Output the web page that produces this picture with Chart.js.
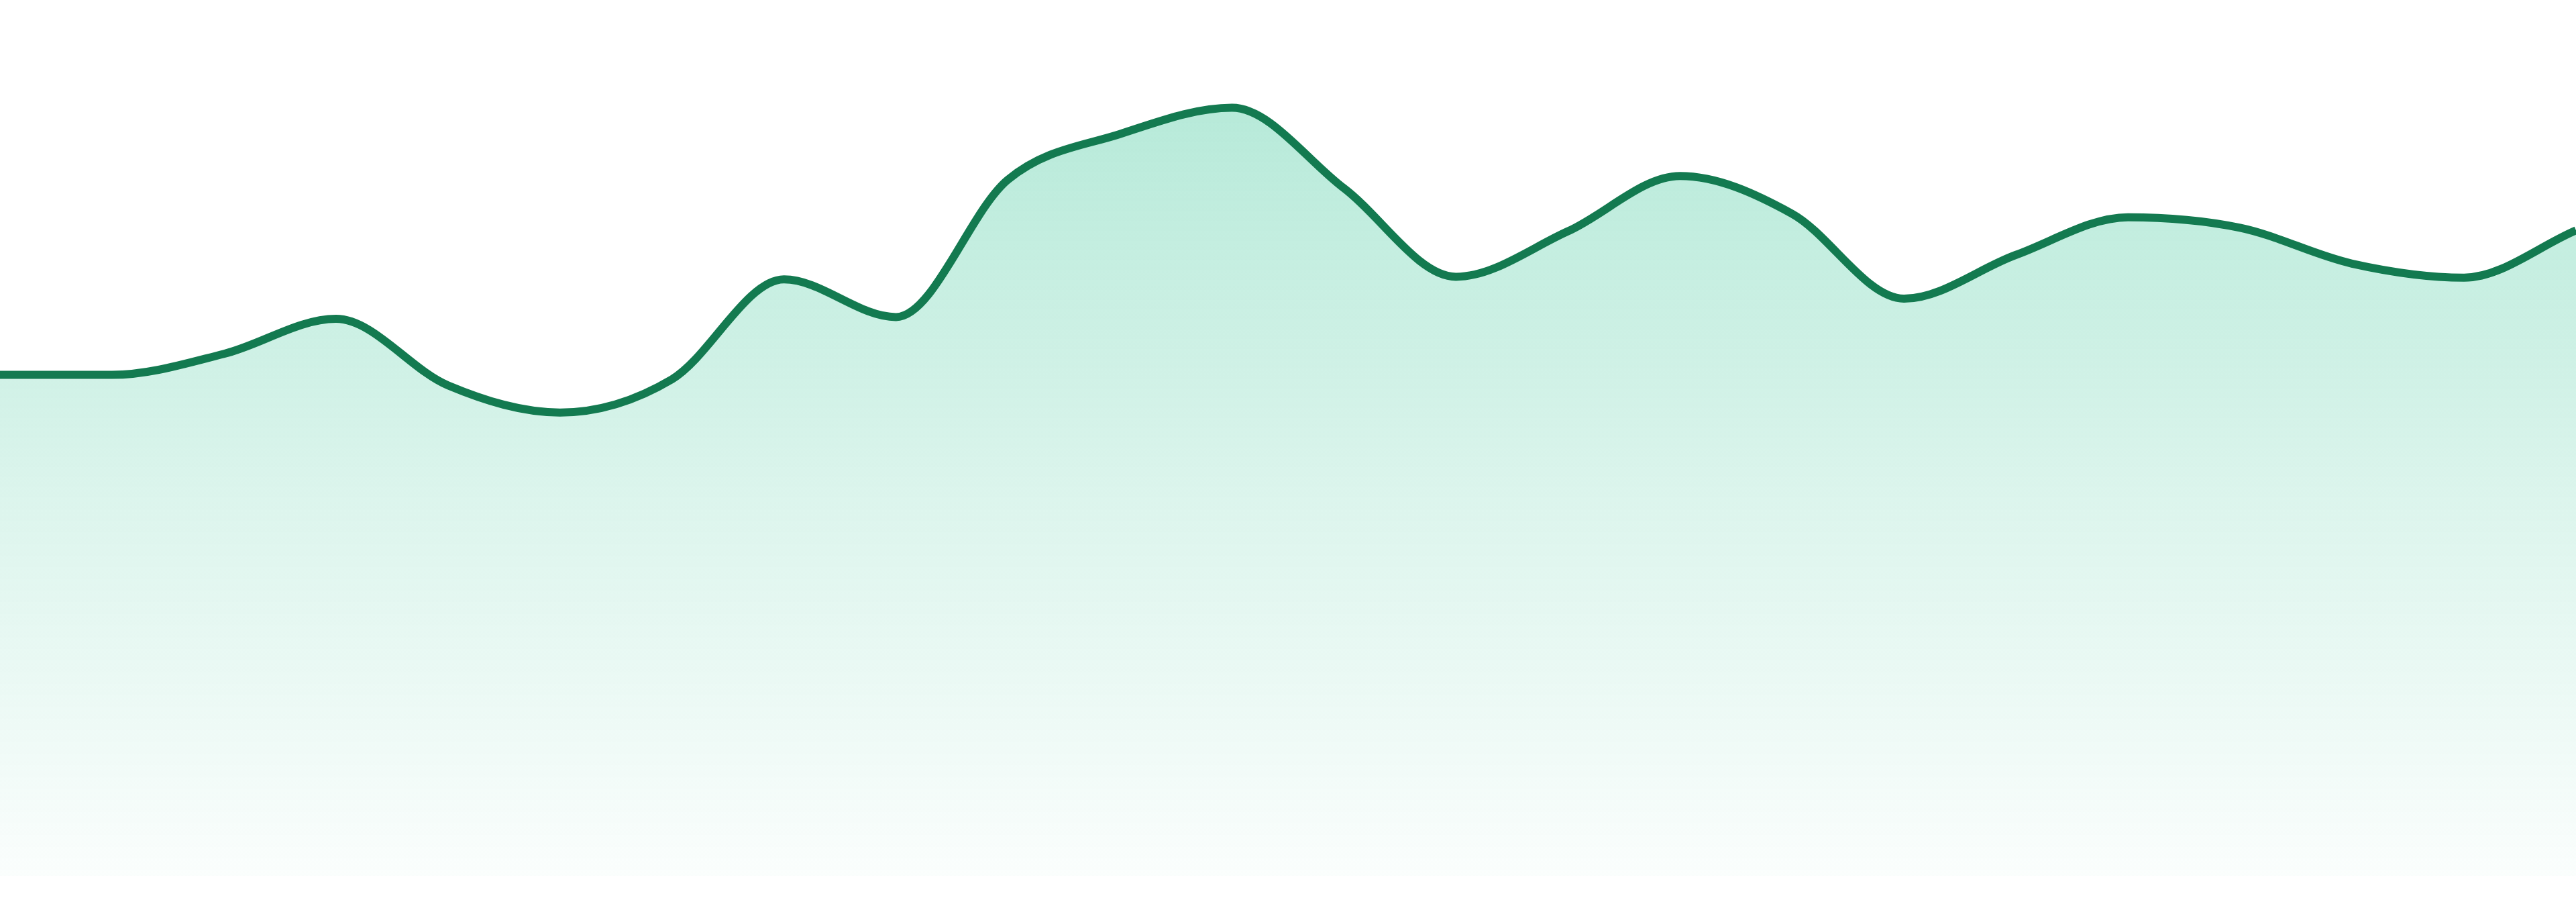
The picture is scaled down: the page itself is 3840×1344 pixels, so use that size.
<!DOCTYPE html>
<html>
<head>
<meta charset="utf-8">
<script src="https://cdn.jsdelivr.net/npm/chart.js@4/dist/chart.umd.min.js"></script>
<style>
    html, body { margin: 0; padding: 0; background: #ffffff; }
    #wrap { width: 3840px; height: 1344px; position: relative; }
</style>
</head>
<body>
<div id="wrap"><canvas id="areaChart"></canvas></div>
<script>
// Data
const labels = ['1', '2', '3', '4', '5', '6', '7', '8', '9', '10', '11', '12',
    '13', '14', '15', '16', '17', '18', '19', '20', '21', '22', '23', '24'];
const values = [57.2, 57.2, 59.6, 63.6, 56.0, 52.9, 56.7, 68.1, 63.8, 79.5, 84.7, 87.7,
    78.5, 68.4, 73.6, 79.9, 75.6, 65.9, 70.9, 75.2, 74.0, 69.9, 68.3, 73.7];
const yMin = 0;
const yMax = 100;

// Colors
const lineColor = '#137a50';
const fillRGB = '16, 185, 129';

function fillGradient(context) {
    const chart = context.chart;
    const area = chart.chartArea;
    if (!area) return `rgba(${fillRGB}, 0.3)`;
    const top = chart.scales.y.getPixelForValue(Math.max(...values));
    const gradient = chart.ctx.createLinearGradient(0, top, 0, area.bottom);
    gradient.addColorStop(0, `rgba(${fillRGB}, 0.3)`);
    gradient.addColorStop(0.5, `rgba(${fillRGB}, 0.15)`);
    gradient.addColorStop(1, `rgba(${fillRGB}, 0.02)`);
    return gradient;
}

const ctx = document.getElementById('areaChart').getContext('2d');
const areaChart = new Chart(ctx, {
    type: 'line',
    data: {
        labels: labels,
        datasets: [{
            data: values,
            borderColor: lineColor,
            borderWidth: 12,
            backgroundColor: fillGradient,
            fill: 'start',
            cubicInterpolationMode: 'monotone',
            pointRadius: 0,
            pointHoverRadius: 0
        }]
    },
    options: {
        responsive: true,
        maintainAspectRatio: false,
        animation: false,
        layout: {
            padding: { top: 0, right: 0, bottom: 39, left: 0 }
        },
        plugins: {
            legend: { display: false },
            tooltip: { enabled: false }
        },
        scales: {
            x: {
                display: false,
                offset: false
            },
            y: {
                display: false,
                min: yMin,
                max: yMax
            }
        }
    }
});
</script>
</body>
</html>
